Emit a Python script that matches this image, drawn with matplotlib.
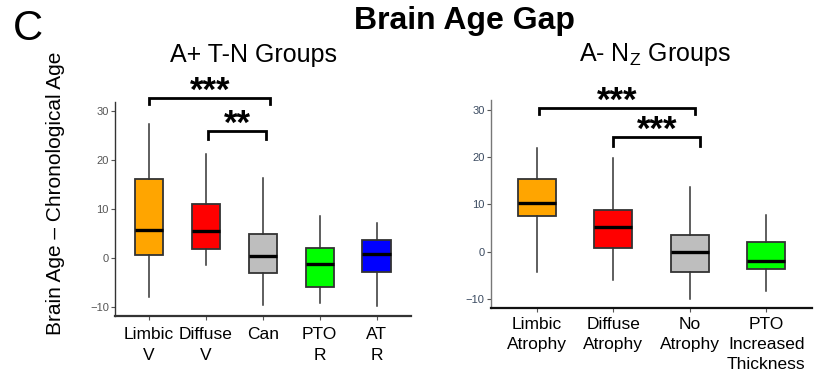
import matplotlib
matplotlib.use("Agg")
import matplotlib.pyplot as plt
from matplotlib.transforms import offset_copy

plt.rcParams['font.family'] = ['Liberation Sans', 'DejaVu Sans']

# ---- data ----
left_labels = ["Limbic\nV", "Diffuse\nV", "Can", "PTO\nR", "AT\nR"]
left_colors = ["#FFA500", "#FF0000", "#BEBEBE", "#00FF00", "#0000FF"]
left_whislo = [-8.1, -1.5, -9.7, -9.3, -9.9]
left_q1 = [0.6, 1.8, -3.1, -6.0, -2.9]
left_med = [5.65, 5.4, 0.35, -1.2, 0.75]
left_q3 = [16.1, 11.0, 4.8, 2.0, 3.5]
left_whishi = [27.2, 21.2, 16.2, 8.5, 7.1]

right_labels = ["Limbic\nAtrophy", "Diffuse\nAtrophy", "No\nAtrophy", "PTO\nIncreased\nThickness"]
right_colors = ["#FFA500", "#FF0000", "#BEBEBE", "#00FF00"]
right_whislo = [-4.4, -6.1, -10.0, -8.3]
right_q1 = [7.5, 0.85, -4.4, -3.7]
right_med = [10.3, 5.2, 0.0, -1.9]
right_q3 = [15.4, 8.8, 3.5, 2.05]
right_whishi = [21.9, 19.8, 13.6, 7.75]

yticks = [-10, 0, 10, 20, 30]

# significance brackets: (x_start, x_end, y_top, y_tick_bottom, label)
left_sig = [(1.0, 3.13, 32.5, 31.3, "***"), (2.03, 3.06, 25.9, 24.2, "**")]
right_sig = [(1.03, 3.07, 30.5, 29.1, "***"), (2.0, 3.14, 24.2, 22.4, "***")]

fig = plt.figure(figsize=(8.17, 3.7), dpi=100)

def panel(rect, labels, colors, lo, q1, med, q3, hi, ylim, sig, tickcol, xaxcol, yaxcol, xpad):
    ax = fig.add_axes(rect)
    stats = []
    for i in range(len(labels)):
        stats.append(dict(whislo=lo[i], q1=q1[i], med=med[i], q3=q3[i], whishi=hi[i], fliers=[]))
    pos = list(range(1, len(labels) + 1))
    bp = ax.bxp(stats, positions=pos, widths=0.5, patch_artist=True, showcaps=False,
                showfliers=False,
                boxprops=dict(edgecolor="#333333", linewidth=1.3),
                whiskerprops=dict(color="#333333", linewidth=1.1),
                medianprops=dict(color="black", linewidth=2.4))
    for patch, c in zip(bp['boxes'], colors):
        patch.set_facecolor(c)
    ax.set_xlim(0.4, len(labels) + 0.6)
    ax.set_ylim(*ylim)
    ax.set_yticks(yticks)
    ax.set_xticks(pos)
    ax.set_xticklabels(labels, fontsize=12.5, color="black", linespacing=1.45)
    ax.tick_params(axis='y', labelsize=8, colors="#555555", labelcolor=tickcol, length=3, width=0.8, pad=1.5)
    ax.tick_params(axis='x', length=3, width=0.8, colors="#555555", labelcolor="black", pad=xpad)
    for s in ['top', 'right']:
        ax.spines[s].set_visible(False)
    ax.spines['left'].set_color(yaxcol)
    ax.spines['bottom'].set_color(xaxcol)
    ax.spines['left'].set_linewidth(1.0)
    ax.spines['bottom'].set_linewidth(1.6)
    star_tr = offset_copy(ax.transData, fig=fig, x=0, y=-3, units='dots')
    for (x0, x1, yt, yb, lab) in sig:
        ax.plot([x0, x0, x1, x1], [yb, yt, yt, yb], color="black", linewidth=2.0,
                clip_on=False, solid_joinstyle='miter')
        ax.text((x0 + x1) / 2, yt, lab, ha='center', va='baseline', fontsize=25,
                fontweight='bold', transform=star_tr, clip_on=False)
    return ax

axl = panel([0.1408, 0.1459, 0.3619, 0.5792], left_labels, left_colors, left_whislo, left_q1,
            left_med, left_q3, left_whishi, (-11.9, 31.8), left_sig, "#555555", "#333333", "#333333", 5)
axr = panel([0.601, 0.1668, 0.3929, 0.5629], right_labels, right_colors, right_whislo, right_q1,
            right_med, right_q3, right_whishi, (-12.0, 32.1), right_sig, "#3a4a60", "#111111", "#777777", 3)

axl.set_ylabel("Brain Age \u2013 Chronological Age", fontsize=15)
axl.yaxis.set_label_coords(-0.17, 0.574)

fig.text(464 / 817, 1 - 21 / 370, "Brain Age Gap", ha='center', va='center', fontsize=23, fontweight='bold')
fig.text(13 / 817, 1 - 29 / 370, "C", ha='left', va='center', fontsize=30)
fig.text(253 / 817, 1 - 55 / 370, "A+ T-N Groups", ha='center', va='center', fontsize=18)
fig.text(655 / 817, 1 - 55 / 370, "A- N$_\\mathregular{Z}$ Groups", ha='center', va='center', fontsize=18)

fig.savefig("out.png", dpi=100)
